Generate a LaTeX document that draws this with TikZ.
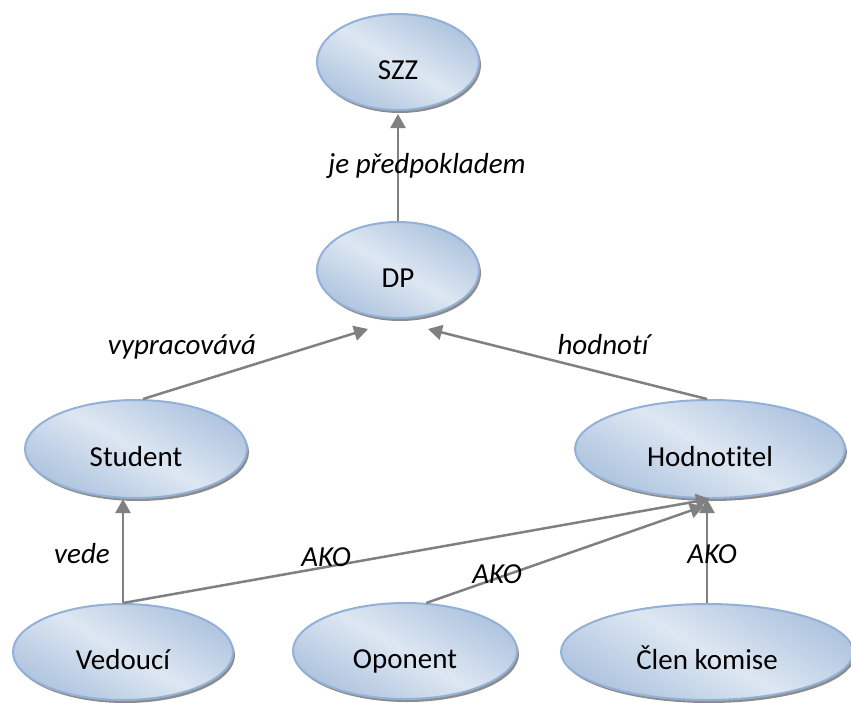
\documentclass[tikz,border=0pt]{standalone}
\usepackage{fontspec}
\setmainfont[Ligatures=NoCommon]{Carlito}
\usetikzlibrary{shapes.geometric,arrows.meta,shadows}

\definecolor{ovalfill}{HTML}{DDE7F2}
\definecolor{ovaldark}{HTML}{AFC4DF}
\definecolor{ovalline}{HTML}{93B1D7}
\definecolor{linkgray}{HTML}{808080}

\newcommand{\mapfont}{\fontsize{29}{35}\selectfont}

\tikzset{
  oval/.style={ellipse, draw=ovalline, line width=2pt, inner sep=0pt,
    top color=ovaldark, bottom color=ovaldark, middle color=ovalfill,
    shading angle=-30,
    drop shadow={shadow xshift=2pt, shadow yshift=-3pt, fill=black!45, opacity=1},
    text height=35pt, text depth=0pt},
  link/.style={draw=linkgray, line width=2.5pt, -{Triangle[length=14pt,width=15pt]}},
  rel/.style={font=\mapfont\itshape, text height=18.3pt, text depth=0pt, inner sep=0pt}
}

\begin{document}
\begin{tikzpicture}[x=1pt,y=-1pt,font=\mapfont]
  \useasboundingbox (0,0) rectangle (851,702);
  % concepts
  \node[oval, minimum width=162pt, minimum height=96pt] (szz) at (398,62) {SZZ};
  \node[oval, minimum width=162pt, minimum height=96pt] (dp) at (398,270) {DP};
  \node[oval, minimum width=222pt, minimum height=98pt] (student) at (136,449) {Student};
  \node[oval, minimum width=270pt, minimum height=98pt] (hod) at (710,449) {Hodnotitel};
  \node[oval, minimum width=220pt, minimum height=96pt] (ved) at (123,652) {Vedoucí};
  \node[oval, minimum width=224pt, minimum height=96pt] (opo) at (405,651) {Oponent};
  \node[oval, minimum width=292pt, minimum height=96pt] (clen) at (707,652) {Člen komise};

  % loose arrow ends below DP and Hodnotitel
  \coordinate (tipstud) at (368,329);
  \coordinate (tiphod) at (428,329);
  \coordinate (tipopo) at (704,506);

  % relations
  \draw[link, shorten >=3pt] (dp.north) -- (szz.south);
  \draw[link] ([xshift=7pt]student.north) -- (tipstud);
  \draw[link] ([xshift=-3pt]hod.north) -- (tiphod);
  \draw[link] (ved.north) -- (ved.north |- student.south);
  \draw[link] (ved.north) -- (hod.south);
  \draw[link] (opo.66) -- (tipopo);
  \draw[link] (clen.north) -- (clen.north |- hod.south);

  % relation names
  \node[rel] (predp) at (427,164) {je předpokladem};
  \node[rel] (vyprac) at (182,345) {vypracovává};
  \node[rel] (hodn) at (603,345) {hodnotí};
  \node[rel] (vede) at (82,554) {vede};
  \node[rel] (ako1) at (326,557) {AKO};
  \node[rel] (ako2) at (497,574) {AKO};
  \node[rel] (ako3) at (712,554) {AKO};
\end{tikzpicture}
\end{document}
